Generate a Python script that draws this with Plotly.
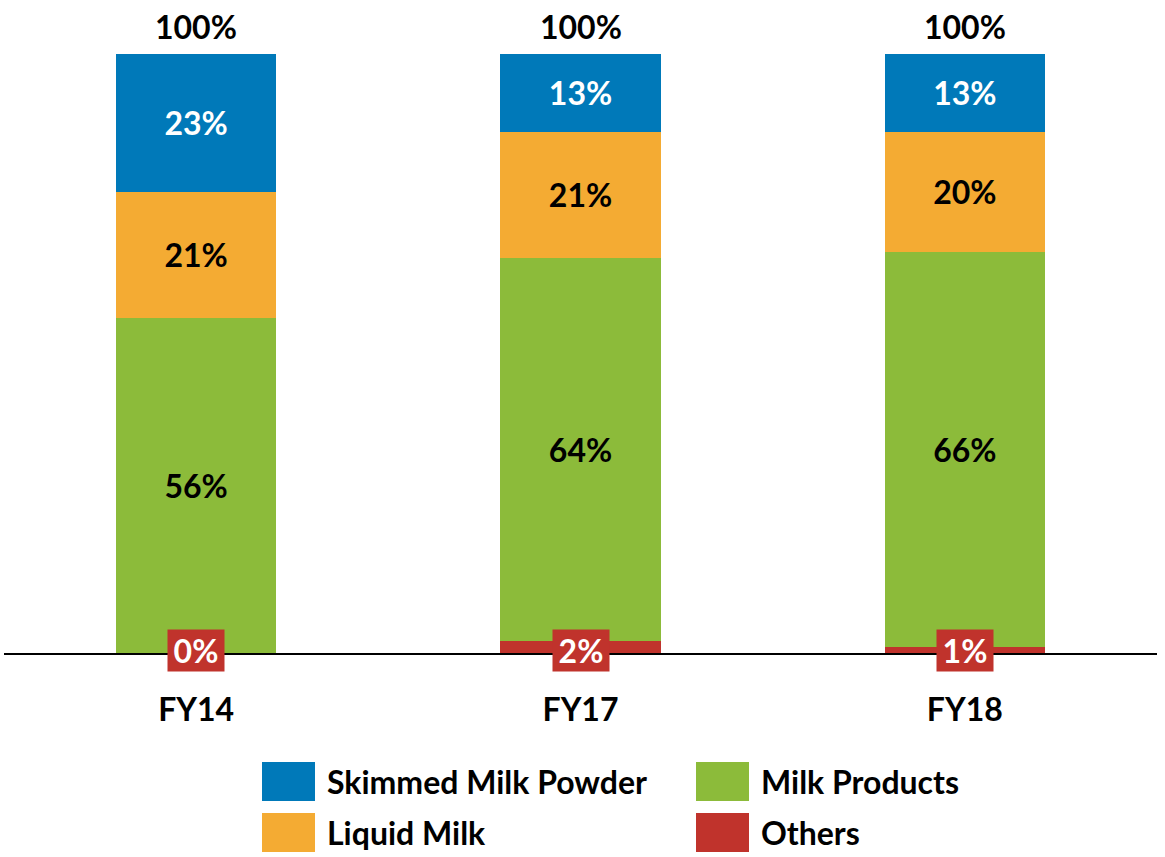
import plotly.graph_objects as go

# Sales mix by product category, share of total (%)
years = ["FY14", "FY17", "FY18"]
others = [0, 2, 1]
milk_products = [56, 64, 66]
liquid_milk = [21, 21, 20]
skimmed_milk_powder = [23, 13, 13]
totals = [100, 100, 100]

BLUE = "#0079B9"
ORANGE = "#F4AB33"
GREEN = "#8CBB3A"
RED = "#C0332C"
FONT = "Lato"
FS = 32

W, H = 1165, 857
M_L, M_R, M_T, M_B = 4, 8, 5, 204
plot_h = H - M_T - M_B
px_per_unit = 5.99
y_max = plot_h / px_per_unit


def pct(vals):
    return [f"<b>{v}%</b>" for v in vals]


fig = go.Figure()
series = [
    ("Others", others, RED, None),
    ("Milk Products", milk_products, GREEN, "black"),
    ("Liquid Milk", liquid_milk, ORANGE, "black"),
    ("Skimmed Milk Powder", skimmed_milk_powder, BLUE, "white"),
]
for name, vals, color, tcolor in series:
    fig.add_trace(go.Bar(
        x=years, y=vals, name=name,
        marker=dict(color=color, line=dict(width=0)),
        text=pct(vals) if tcolor else None,
        textposition="inside" if tcolor else "none",
        insidetextanchor="middle",
        textfont=dict(family=FONT, size=FS, color=tcolor or "white"),
        showlegend=False,
        hoverinfo="name+y",
    ))

annotations = []
# totals above each stack
for yr, t in zip(years, totals):
    annotations.append(dict(
        x=yr, y=t, xref="x", yref="y", text=f"<b>{t}%</b>",
        showarrow=False, yanchor="bottom", yshift=6,
        font=dict(family=FONT, size=FS, color="black"),
    ))
# "Others" labels boxed on the baseline
for yr, v in zip(years, others):
    annotations.append(dict(
        x=yr, y=0, xref="x", yref="y", text=f"<b>{v}%</b>",
        showarrow=False, yanchor="middle", yshift=3,
        bgcolor=RED, borderpad=1, width=54,
        font=dict(family=FONT, size=FS, color="white"),
    ))


# custom legend with large swatches
def px_x(p):
    return (p - M_L) / (W - M_L - M_R)


def px_y(p):
    return (H - M_B - p) / plot_h


legend_items = [
    ("Skimmed Milk Powder", BLUE, 262, 762),
    ("Milk Products", GREEN, 696, 762),
    ("Liquid Milk", ORANGE, 262, 813),
    ("Others", RED, 696, 813),
]
shapes = []
for name, color, lx, ty in legend_items:
    shapes.append(dict(
        type="rect", xref="paper", yref="paper",
        x0=px_x(lx), x1=px_x(lx + 53), y0=px_y(ty + 39), y1=px_y(ty),
        fillcolor=color, line=dict(width=0),
    ))
    annotations.append(dict(
        x=px_x(lx + 63), y=px_y(ty + 19), xref="paper", yref="paper",
        text=f"<b>{name}</b>", showarrow=False,
        xanchor="left", yanchor="middle",
        font=dict(family=FONT, size=FS, color="black"),
    ))

fig.update_layout(
    barmode="stack",
    bargap=0.583,
    width=W, height=H,
    margin=dict(l=M_L, r=M_R, t=M_T, b=M_B),
    plot_bgcolor="white", paper_bgcolor="white",
    xaxis=dict(
        showline=True, linecolor="black", linewidth=2,
        ticks="outside", ticklen=28, tickcolor="rgba(0,0,0,0)",
        tickfont=dict(family=FONT, size=FS, color="black", weight="bold"),
        showgrid=False,
    ),
    yaxis=dict(range=[0, y_max], visible=False, showgrid=False),
    annotations=annotations,
    shapes=shapes,
)

fig.write_html("out.html")
